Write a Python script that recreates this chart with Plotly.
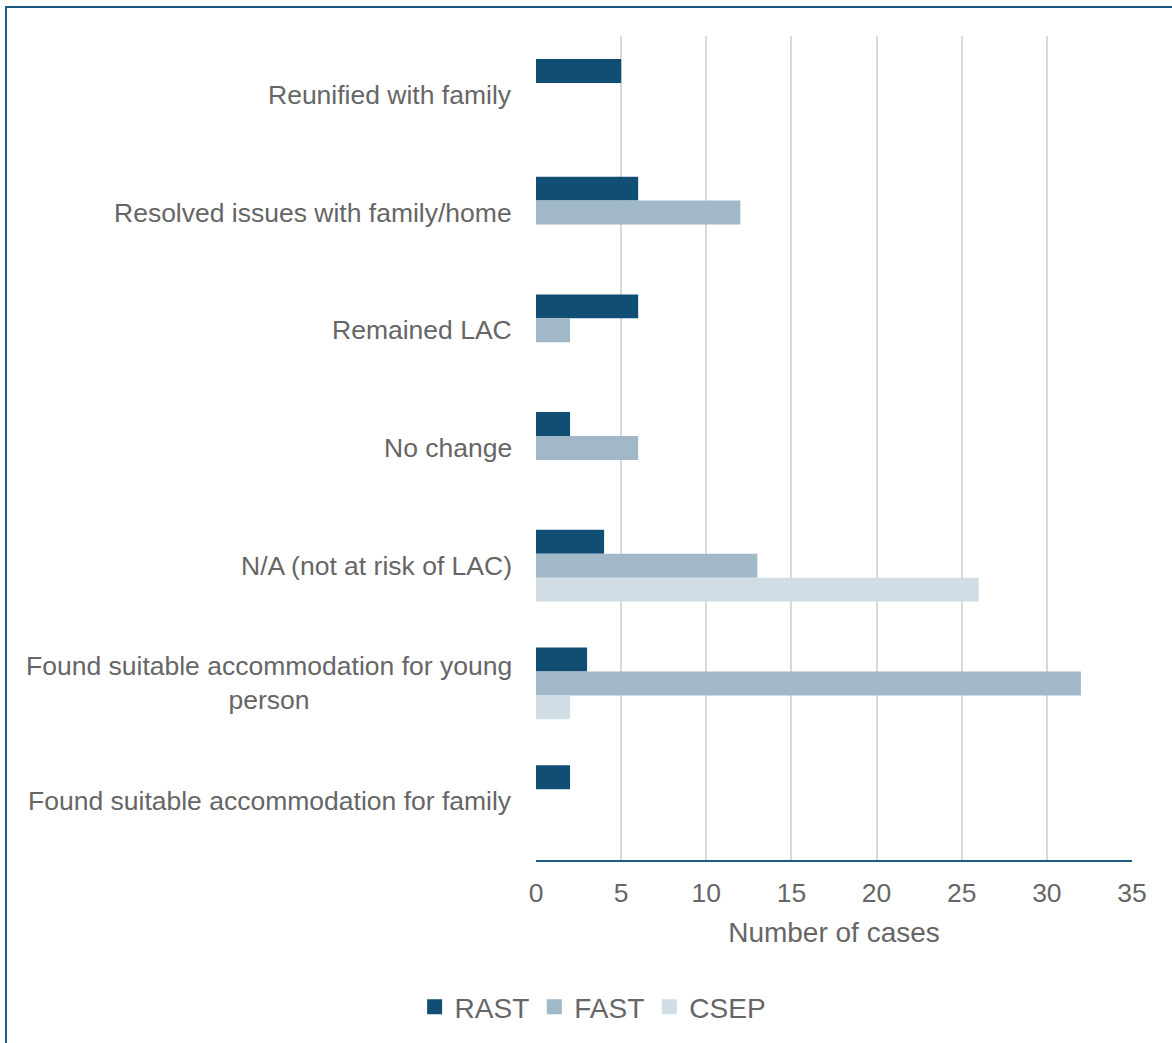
import plotly.graph_objects as go

categories = [
    "Reunified with family",
    "Resolved issues with family/home",
    "Remained LAC",
    "No change",
    "N/A (not at risk of LAC)",
    "Found suitable accommodation for young<br>person",
    "Found suitable accommodation for family",
]
rast = [5, 6, 6, 2, 4, 3, 2]
fast = [0, 12, 2, 6, 13, 32, 0]
csep = [0, 0, 0, 0, 26, 2, 0]
series_names = ["RAST", "FAST", "CSEP"]
colors = ["#114e73", "#a0b8c8", "#d0dde5"]
x_ticks = [0, 5, 10, 15, 20, 25, 30, 35]

text_color = "#666666"
font_family = "Liberation Sans, Arial, sans-serif"

fig = go.Figure()
for name, vals, col in zip(series_names, [rast, fast, csep], colors):
    fig.add_trace(go.Bar(
        y=categories, x=vals, name=name, orientation="h",
        marker=dict(color=col, line=dict(width=0)), showlegend=False,
    ))
# legend entries with larger square symbols
for name, col in zip(series_names, colors):
    fig.add_trace(go.Scatter(
        x=[None], y=[None], mode="markers", name=name,
        marker=dict(symbol="square", size=15, color=col),
        showlegend=True,
    ))

annotations = []
for c in categories:
    annotations.append(dict(
        x=0, xref="x", y=c, yref="y", text=c, showarrow=False,
        xanchor="right", yanchor="middle", xshift=-22, align="center",
        font=dict(size=26.5, color=text_color, family=font_family),
    ))

fig.update_layout(
    width=1172, height=1043,
    margin=dict(l=536, r=40, t=36, b=182),
    paper_bgcolor="white", plot_bgcolor="white",
    barmode="group", bargap=0.39, bargroupgap=0,
    font=dict(family=font_family, size=27, color=text_color),
    showlegend=True,
    legend=dict(orientation="h", x=0.095, xanchor="center", y=-0.177, yanchor="middle",
                font=dict(size=28, color=text_color), itemwidth=30,
                traceorder="normal", bgcolor="rgba(0,0,0,0)"),
    annotations=annotations,
    shapes=[dict(type="rect", xref="paper", yref="paper",
                 x0=(6 - 536) / 596, x1=1.3, y0=-0.5, y1=(861 - 7) / 825,
                 line=dict(color="#1f5a85", width=2), fillcolor="rgba(0,0,0,0)",
                 layer="below")],
)
fig.update_xaxes(
    range=[0, 35], tickvals=x_ticks, ticktext=[str(v) for v in x_ticks],
    showgrid=True, gridcolor="#d9d9d9", gridwidth=2, zeroline=False,
    showline=True, linecolor="#1f5a85", linewidth=2,
    ticks="", ticklabelstandoff=8,
    tickfont=dict(size=26.5, color=text_color),
    title=dict(text="Number of cases", font=dict(size=28, color=text_color), standoff=16),
)
fig.update_yaxes(
    autorange="reversed", showticklabels=False, showgrid=False,
    zeroline=False, showline=False, ticks="",
)

fig.write_html("out.html")
